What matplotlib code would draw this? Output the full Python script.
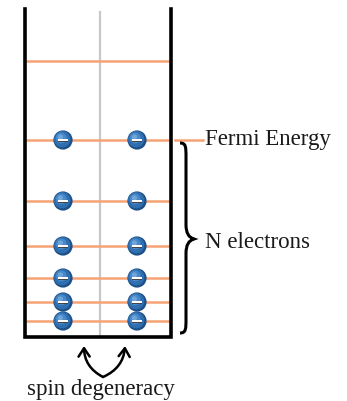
import matplotlib
matplotlib.use("Agg")
from matplotlib import pyplot as plt
from matplotlib.patches import Circle, FancyArrowPatch, PathPatch, Rectangle
from matplotlib.path import Path

# energy levels (pixel rows, top of picture = 0)
level_y = [61, 140, 201, 246, 278, 302, 321]
occupied = [False, True, True, True, True, True, True]
spin_cols = [63, 137]
fermi_y = 140

labels = {'fermi': 'Fermi Energy', 'n': 'N electrons', 'spin': 'spin degeneracy'}

W, H = 347, 401
fig = plt.figure(figsize=(W / 100, H / 100), dpi=100)
ax = fig.add_axes([0, 0, 1, 1])
ax.set_xlim(0, W)
ax.set_ylim(H, 0)
ax.axis('off')

orange = '#f7a274'
blue = '#2f6fb0'

# box
ax.plot([25, 25, 171, 171], [9, 337, 337, 9], color='black', lw=2.6,
        solid_joinstyle='miter', zorder=3)
ax.plot([100, 100], [12, 335], color='#c8c8c8', lw=1.6, zorder=1)

for y in level_y:
    ax.plot([27, 168], [y, y], color=orange, lw=1.8, zorder=2)
ax.plot([175, 203], [fermi_y, fermi_y], color=orange, lw=1.8, zorder=2)


def electron(x, y):
    ax.add_patch(Circle((x, y), 9.6, facecolor='#1d4f88', edgecolor='none', zorder=4))
    ax.add_patch(Circle((x - 0.8, y - 0.8), 8.2, facecolor=blue, edgecolor='none', zorder=4))
    ax.add_patch(Circle((x - 1.8, y - 2.0), 5.4, facecolor='#4a88c8', edgecolor='none', zorder=4))
    ax.add_patch(Circle((x - 2.6, y - 3.0), 2.6, facecolor='#6ea6da', edgecolor='none', zorder=4))
    ax.add_patch(Rectangle((x - 5, y - 0.2), 10, 2.2, facecolor='#444444',
                           edgecolor='none', zorder=5))
    ax.add_patch(Rectangle((x - 5, y - 1.4), 10, 2.2, facecolor='white',
                           edgecolor='none', zorder=6))


for y, occ in zip(level_y, occupied):
    if occ:
        for x in spin_cols:
            electron(x, y)

# curly brace
x0, x1, xt = 180, 186, 194
yt, yb, ym = 143, 333, 239
verts = [
    (x0, yt), (x1, yt), (x1, yt + 4), (x1, yt + 14),
    (x1, ym - 14), (x1, ym - 2), (xt, ym),
    (x1, ym + 2), (x1, ym + 14), (x1, yb - 14),
    (x1, yb - 4), (x1, yb), (x0, yb),
]
codes = [Path.MOVETO, Path.CURVE4, Path.CURVE4, Path.LINETO,
         Path.LINETO, Path.CURVE3, Path.CURVE3,
         Path.CURVE3, Path.CURVE3, Path.LINETO,
         Path.CURVE4, Path.CURVE4, Path.CURVE4]
ax.add_patch(PathPatch(Path(verts, codes), facecolor='none', edgecolor='black',
                       lw=2.2, zorder=3))

font = dict(family='Liberation Serif', fontsize=16.5, color='#1a1a1a')
ax.text(205, fermi_y, labels['fermi'], ha='left', va='center', **font)
ax.text(205, 242, labels['n'], ha='left', va='center', **font)
ax.text(101, 389, labels['spin'], ha='center', va='center', **font)

# spin degeneracy arrows
for end, rad in [((84, 346), -0.3), ((125, 346), 0.3)]:
    ax.add_patch(FancyArrowPatch((103, 377), end, arrowstyle='->,head_length=6,head_width=4',
                                 connectionstyle=f'arc3,rad={rad}', color='black',
                                 lw=1.8, zorder=3, shrinkA=0, shrinkB=0))

fig.savefig('out.png', dpi=100)
